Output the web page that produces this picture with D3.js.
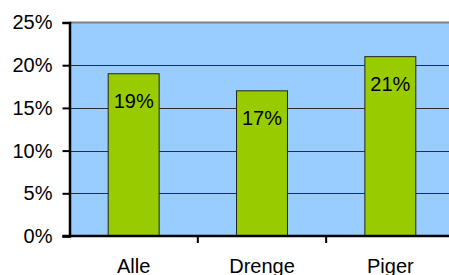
<!DOCTYPE html>
<html><head><meta charset="utf-8">
<script src="https://cdn.jsdelivr.net/npm/d3@7"></script>
<style>html,body{margin:0;padding:0;background:#fff;}svg{display:block;}</style>
</head><body>
<script>
const categories = ["Alle", "Drenge", "Piger"];
const values = [0.19, 0.17, 0.21];
const valueLabels = ["19%", "17%", "21%"];
const yTicks = [0, 0.05, 0.10, 0.15, 0.20, 0.25];
const yTickLabels = ["0%", "5%", "10%", "15%", "20%", "25%"];

(function () {
const W = 449, H = 275;
const svg = d3.select("body").append("svg").attr("width", W).attr("height", H);
const font = "'Liberation Sans', Arial, sans-serif";
const fs = 20;

const pLeft = 69.5, pRight = 454.5, pTop = 22.5, pBottom = 236;
const y = d3.scaleLinear().domain([0, 0.25]).range([pBottom, pTop]);
const x = d3.scaleBand().domain(categories).range([pLeft, pRight]).paddingInner(0.603).paddingOuter(0.3015);

// plot background
svg.append("rect").attr("x", pLeft).attr("y", pTop).attr("width", W - pLeft).attr("height", pBottom - pTop).attr("fill", "#99CCFF");

// gridlines
svg.append("g").selectAll("line").data(yTicks.filter(d => d > 0 && d < 0.25)).join("line")
  .attr("x1", pLeft).attr("x2", W).attr("y1", d => Math.round(y(d)) + 0.5).attr("y2", d => Math.round(y(d)) + 0.5)
  .attr("stroke", "#26303c").attr("stroke-width", 1);
// top border
svg.append("line").attr("x1", pLeft).attr("x2", W).attr("y1", y(0.25)).attr("y2", y(0.25))
  .attr("stroke", "#808080").attr("stroke-width", 2);

// bars
svg.append("g").selectAll("rect").data(categories).join("rect")
  .attr("x", d => x(d)).attr("width", x.bandwidth())
  .attr("y", (d, i) => y(values[i])).attr("height", (d, i) => y(0) - y(values[i]))
  .attr("fill", "#99CC00").attr("stroke", "#222").attr("stroke-width", 1);

// value labels
svg.append("g").selectAll("text").data(categories).join("text")
  .attr("x", d => x(d) + x.bandwidth() / 2).attr("y", (d, i) => y(values[i]) + 34)
  .attr("text-anchor", "middle").attr("font-family", font).attr("font-size", fs).attr("fill", "#000")
  .text((d, i) => valueLabels[i]);

// y axis
const yAxis = d3.axisLeft(y).tickValues(yTicks).tickFormat((d, i) => yTickLabels[i]).tickSize(7).tickPadding(10);
const gy = svg.append("g").attr("transform", `translate(${pLeft},0)`).call(yAxis);
gy.select(".domain").attr("stroke", "#000").attr("stroke-width", 2.5);
gy.selectAll(".tick line").attr("stroke", "#000").attr("stroke-width", 2);
gy.selectAll(".tick text").attr("font-family", font).attr("font-size", fs).attr("fill", "#000");

// x axis line
svg.append("line").attr("x1", pLeft - 7).attr("x2", W).attr("y1", pBottom).attr("y2", pBottom)
  .attr("stroke", "#000").attr("stroke-width", 2.5);
// x ticks between categories
const step = x.step();
svg.append("g").selectAll("line").data(categories.slice(0, categories.length - 1)).join("line")
  .attr("x1", d => x(d) + x.bandwidth() / 2 + step / 2).attr("x2", d => x(d) + x.bandwidth() / 2 + step / 2)
  .attr("y1", pBottom).attr("y2", pBottom + 7).attr("stroke", "#000").attr("stroke-width", 2);
// category labels
svg.append("g").selectAll("text").data(categories).join("text")
  .attr("x", d => x(d) + x.bandwidth() / 2).attr("y", 272.5)
  .attr("text-anchor", "middle").attr("font-family", font).attr("font-size", fs).attr("fill", "#000")
  .text(d => d);
})();
</script>
</body></html>
